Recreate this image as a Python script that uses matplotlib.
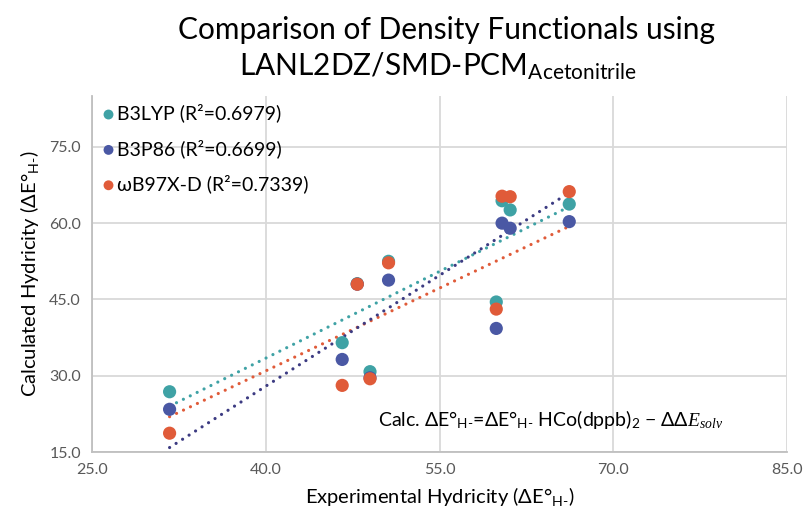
import numpy as np
import matplotlib
matplotlib.use("Agg")
import matplotlib.pyplot as plt

plt.rcParams['font.family'] = ['Lato', 'DejaVu Sans']
plt.rcParams['mathtext.fontset'] = 'custom'
plt.rcParams['mathtext.rm'] = 'Lato'
plt.rcParams['mathtext.it'] = 'Liberation Serif:italic'
plt.rcParams['mathtext.bf'] = 'Lato:bold'

# Experimental hydricities (kcal/mol)
experimental = [31.7, 46.6, 49.0, 47.9, 50.6, 59.9, 60.4, 61.1, 66.2]

# Calculated hydricities per functional
b3lyp = [26.85, 36.5, 30.8, 48.1, 52.5, 44.5, 64.4, 62.6, 63.75]
b3p86 = [23.4, 33.2, 29.6, 48.0, 48.8, 39.3, 60.0, 59.0, 60.3]
wb97xd = [18.7, 28.1, 29.4, 48.0, 52.2, 43.1, 65.3, 65.2, 66.2]

series_names = ["B3LYP (R²=0.6979)", "B3P86 (R²=0.6699)", "ωB97X-D (R²=0.7339)"]
x_ticks = [25.0, 40.0, 55.0, 70.0, 85.0]
y_ticks = [15.0, 30.0, 45.0, 60.0, 75.0]

point_colors = ['#3fa2a5', '#4a58a4', '#e05b39']
fit_colors = ['#3fa2a5', '#e05b39', '#3c3b82']

fig = plt.figure(figsize=(8.04, 5.17), dpi=100)
ax = fig.add_axes([0.1144, 0.1257, 0.8645, 0.6886])

x = np.array(experimental)
all_series = [b3lyp, b3p86, wb97xd]

# linear trendlines over the data range, drawn as round dots
for ys, fc in zip(all_series, fit_colors):
    y = np.array(ys)
    m, b = np.polyfit(x, y, 1)
    xx = np.array([x.min(), x.max()])
    ax.plot(xx, m * xx + b, linestyle=(0, (0.01, 2.4)), lw=2.3, color=fc,
            dash_capstyle='round', zorder=2)

handles = []
for ys, pc, name in zip(all_series, point_colors, series_names):
    h = ax.scatter(x, ys, s=90, color=pc, edgecolors='none', zorder=3, label=name)
    handles.append(h)

ax.set_xlim(25, 85)
ax.set_ylim(15, 85)
ax.set_xticks(x_ticks)
ax.set_yticks(y_ticks)
ax.set_xticklabels([f"{v:.1f}" for v in x_ticks])
ax.set_yticklabels([f"{v:.1f}" for v in y_ticks])
ax.tick_params(length=0, labelsize=11.5, colors='#595959', pad=8)
ax.grid(True, color='#d9d9d9', lw=1.3, zorder=0)
ax.set_axisbelow(True)
for s in ['top', 'right']:
    ax.spines[s].set_visible(False)
for s in ['left', 'bottom']:
    ax.spines[s].set_color('#bfbfbf')
    ax.spines[s].set_linewidth(1.3)

ax.set_xlabel(r"Experimental Hydricity (ΔE°$_{\mathrm{H‐}}$)", fontsize=14.5, labelpad=6)
ax.set_ylabel(r"Calculated Hydricity (ΔE°$_{\mathrm{H‐}}$)", fontsize=14.5, labelpad=6)

fig.text(0.555, 0.942, "Comparison of Density Functionals using", ha='center',
         va='center', fontsize=21.5)
fig.text(0.545, 0.871, r"LANL2DZ/SMD-PCM$_{\mathrm{Acetonitrile}}$", ha='center',
         va='center', fontsize=21.5)

leg = ax.legend(handles=handles, loc='upper left', bbox_to_anchor=(0.0, 1.0),
                frameon=False, fontsize=14, handletextpad=0.0,
                labelspacing=0.85, borderaxespad=0.1, markerscale=0.75,
                handlelength=0.9, borderpad=0.3)

ax.text(0.411, 0.092,
        r"Calc. ΔE°$_{\mathrm{H‐}}$=ΔE°$_{\mathrm{H‐}}$ HCo(dppb)$_{\mathrm{2}}$ − ΔΔ$E_{solv}$",
        transform=ax.transAxes, fontsize=14, ha='left', va='center')

fig.savefig("out.png", dpi=100, facecolor='white')
